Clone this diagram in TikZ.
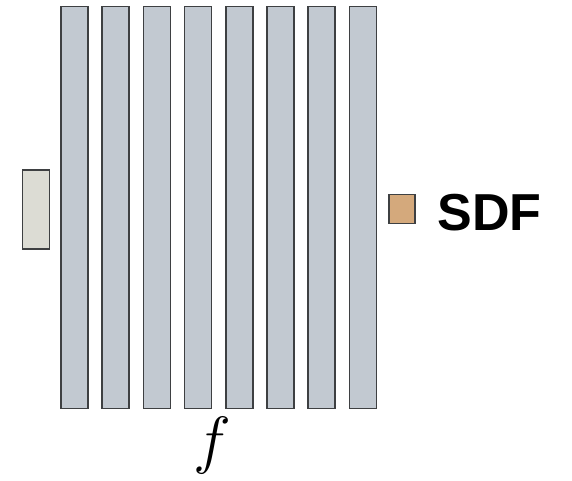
\RequirePackage{fix-cm}
\documentclass[tikz,border=0pt]{standalone}
\usepackage{fontspec}
\usepackage{tikz}
\usetikzlibrary{positioning}
\newfontfamily\labelfont{Liberation Sans}
\definecolor{LayerGray}{RGB}{194,201,209}
\definecolor{InputGray}{RGB}{220,220,212}
\definecolor{SdfTan}{RGB}{212,169,124}
\definecolor{EdgeDark}{RGB}{62,64,66}

\tikzset{
  layerbox/.style={draw=EdgeDark,line width=1.5pt,fill=LayerGray,inner sep=0pt,minimum width=27pt,minimum height=402pt},
  inbox/.style={draw=EdgeDark,line width=1.5pt,fill=InputGray,inner sep=0pt,minimum width=27pt,minimum height=79pt},
  outbox/.style={draw=EdgeDark,line width=1.5pt,fill=SdfTan,inner sep=0pt,minimum width=26pt,minimum height=29pt}
}

\begin{document}
\begin{tikzpicture}[x=1pt,y=-1pt]
    \useasboundingbox (0,0) rectangle (572,480);
    % input point
    \node[inbox] (in) at (35.8,209.5) {};
    % hidden layers of the network
    \foreach \i in {1,...,8} {
        \node[layerbox] (l\i) at ({74.5+41.2*(\i-1)},207.5) {};
    }
    % output value
    \node[outbox] (out) at (401.8,209.2) {};
    \node[anchor=base west,inner sep=0pt,font=\labelfont\bfseries\fontsize{52}{52}\selectfont] (sdf) at (437.5,230.7) {SDF};
    \node[anchor=base,inner sep=0pt,font=\fontsize{64}{64}\selectfont] (fn) at (212,461) {$f$};
\end{tikzpicture}
\end{document}
